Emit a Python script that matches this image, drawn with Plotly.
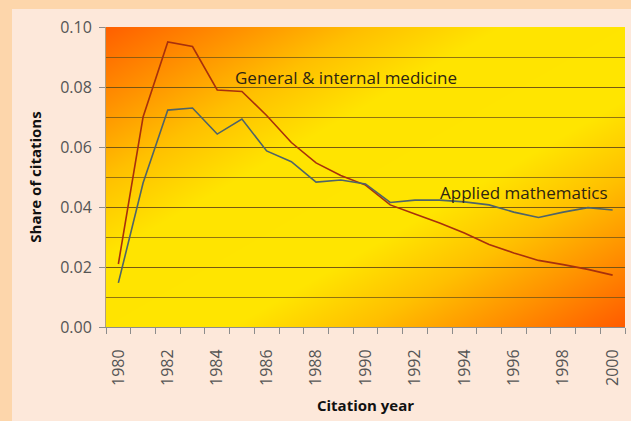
import base64, struct, zlib
import numpy as np
import plotly.graph_objects as go

# ---------------- data ----------------
years = list(range(1980, 2001))
medicine = [0.021, 0.070, 0.095, 0.0935, 0.079, 0.0785, 0.0705, 0.0615, 0.0547, 0.0505,
            0.0473, 0.0407, 0.0377, 0.0347, 0.0313, 0.0275, 0.0247, 0.0222, 0.0208, 0.0192, 0.0173]
mathematics = [0.0147, 0.048, 0.0723, 0.073, 0.0643, 0.0693, 0.0587, 0.0551, 0.0483, 0.049,
               0.0477, 0.0415, 0.0423, 0.0423, 0.0417, 0.0407, 0.0383, 0.0365, 0.0383, 0.0398, 0.039]
series_names = ["General & internal medicine", "Applied mathematics"]
x_tick_labels = [str(y) for y in range(1980, 2001, 2)]
y_tick_vals = [0.0, 0.02, 0.04, 0.06, 0.08, 0.10]

# ---------------- background gradient image (styling only) ----------------
W, H = 519, 300
u = np.linspace(0, 1, W)[None, :]
v = np.linspace(0, 1, H)[:, None]
t = (u + v) / 2.0
stops = [(0.0, (255, 96, 0)), (0.13, (255, 145, 0)), (0.25, (255, 192, 0)), (0.38, (255, 228, 0)),
         (0.62, (255, 230, 0)), (0.75, (255, 192, 0)), (0.87, (255, 145, 0)), (1.0, (255, 92, 0))]
sp = [s[0] for s in stops]
img = np.zeros((H, W, 3), dtype=np.uint8)
for c in range(3):
    img[:, :, c] = np.interp(t, sp, [s[1][c] for s in stops]).astype(np.uint8)

def png_bytes(arr):
    h, w, _ = arr.shape
    raw = b"".join(b"\x00" + arr[i].tobytes() for i in range(h))
    def chunk(tag, data):
        return struct.pack(">I", len(data)) + tag + data + struct.pack(">I", zlib.crc32(tag + data) & 0xffffffff)
    return (b"\x89PNG\r\n\x1a\n" + chunk(b"IHDR", struct.pack(">IIBBBBB", w, h, 8, 2, 0, 0, 0))
            + chunk(b"IDAT", zlib.compress(raw, 9)) + chunk(b"IEND", b""))

bg_uri = "data:image/png;base64," + base64.b64encode(png_bytes(img)).decode()

# ---------------- figure ----------------
ML, MR, MT, MB = 106, 6, 27, 94
FW, FH = 631, 421
PW, PH = FW - ML - MR, FH - MT - MB

def px_x(p):  # pixel -> paper x
    return (p - ML) / PW

def px_y(p):  # pixel (from top) -> paper y
    return 1 - (p - MT) / PH

fig = go.Figure()
fig.add_trace(go.Scatter(x=years, y=medicine, mode="lines", name=series_names[0],
                         line=dict(color="#a8300c", width=1.6)))
fig.add_trace(go.Scatter(x=years, y=mathematics, mode="lines", name=series_names[1],
                         line=dict(color="#4f6468", width=1.6)))

label_font = dict(family="Open Sans, Lato, sans-serif", size=17, color="#2e2412")
fig.add_annotation(x=1989.2, y=0.0833, text=series_names[0], showarrow=False, font=label_font)
fig.add_annotation(x=1996.4, y=0.0447, text=series_names[1], showarrow=False, font=label_font)

fig.update_layout(
    width=FW, height=FH,
    margin=dict(l=ML, r=MR, t=MT, b=MB),
    paper_bgcolor="#fde8da",
    plot_bgcolor="#ffe600",
    showlegend=False,
    images=[dict(source=bg_uri, xref="paper", yref="paper", x=0, y=1, sizex=1, sizey=1,
                 sizing="stretch", layer="below", xanchor="left", yanchor="top")],
    shapes=[
        dict(type="rect", xref="paper", yref="paper", x0=px_x(0), x1=px_x(12), y0=px_y(FH), y1=px_y(0),
             fillcolor="#fdd6ab", line=dict(width=0), layer="below"),
        dict(type="rect", xref="paper", yref="paper", x0=px_x(0), x1=px_x(FW), y0=px_y(9), y1=px_y(0),
             fillcolor="#fdd6ab", line=dict(width=0), layer="below"),
    ],
)

tick_font = dict(family="Open Sans, Lato, sans-serif", size=16, color="#555555")
title_font = dict(family="Open Sans, sans-serif", size=15, color="#111111", weight="bold")

fig.update_xaxes(
    range=[1979.5, 2000.5],
    tickvals=list(range(1980, 2001, 2)), ticktext=x_tick_labels,
    tickangle=-90, ticks="", tickfont=tick_font, ticklabelstandoff=15,
    showgrid=False, zeroline=False,
    showline=True, linecolor="#8c8c8c", linewidth=1,
    minor=dict(tickvals=[y - 0.5 for y in range(1980, 2002)], ticks="outside", ticklen=6,
               tickcolor="#8c8c8c", showgrid=False),
    title=dict(text="Citation year", font=title_font, standoff=15),
)
fig.update_yaxes(
    range=[0, 0.1],
    tickvals=y_tick_vals, tickformat=".2f",
    ticks="outside", ticklen=6, tickcolor="#8c8c8c", tickfont=tick_font,
    ticklabelstandoff=4,
    showgrid=True, gridcolor="rgba(110,80,20,0.75)", gridwidth=1,
    minor=dict(dtick=0.01, showgrid=True, gridcolor="rgba(110,80,20,0.75)", gridwidth=1, ticks=""),
    zeroline=False, showline=True, linecolor="#b0a080", linewidth=1,
    title=dict(text="Share of citations", font=title_font, standoff=14),
)

fig.write_html("out.html", config={"displayModeBar": False},
               post_script="document.body.style.margin='0';document.body.style.overflow='hidden';")
